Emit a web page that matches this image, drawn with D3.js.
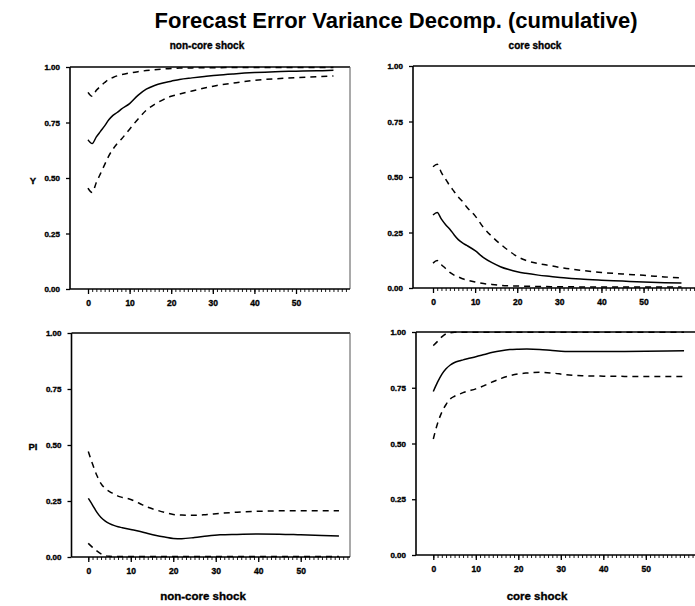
<!DOCTYPE html>
<html>
<head>
<meta charset="utf-8">
<script src="https://cdn.jsdelivr.net/npm/d3@7/dist/d3.min.js"></script>
<style>
  html, body { margin: 0; padding: 0; background: #fff; }
  svg { display: block; }
  text { font-family: "Liberation Sans", Arial, Helvetica, sans-serif; font-weight: bold; fill: #000; }
  .heavy { stroke: #000; stroke-width: 0.35px; }
</style>
</head>
<body>
<svg id="chart" width="695" height="606"></svg>
<script>
// ---------------- data ----------------
const title = "Forecast Error Variance Decomp. (cumulative)";
const shockLabels = ["non-core shock", "core shock"];
const variableLabels = ["Y", "PI"];
const yTickValues = [0, 0.25, 0.5, 0.75, 1];
const xTickValues = [0, 10, 20, 30, 40, 50];

const horizons = [0,1,2,3,4,5,6,7,8,10,12,14,16,18,20,22,25,28,31,35,40,45,50,55,59];

// Y, non-core shock
const yNonCore   = [0.672,0.655,0.685,0.710,0.735,0.762,0.782,0.795,0.810,0.835,0.872,0.900,0.917,0.928,0.936,0.944,0.951,0.957,0.963,0.969,0.975,0.979,0.981,0.983,0.985];
const yNonCoreHi = [0.886,0.868,0.895,0.913,0.930,0.945,0.953,0.960,0.965,0.973,0.979,0.984,0.988,0.991,0.993,0.995,0.996,0.997,0.997,0.998,0.998,0.998,0.998,0.998,0.998];
const yNonCoreLo = [0.454,0.435,0.480,0.520,0.560,0.600,0.630,0.655,0.675,0.720,0.765,0.805,0.832,0.852,0.868,0.878,0.892,0.905,0.917,0.928,0.940,0.947,0.952,0.956,0.960];

// Y, core shock
const yCore   = [0.329,0.340,0.310,0.285,0.265,0.240,0.218,0.203,0.192,0.168,0.137,0.114,0.096,0.083,0.073,0.066,0.058,0.052,0.046,0.040,0.035,0.031,0.027,0.024,0.022];
const yCoreHi = [0.546,0.557,0.520,0.490,0.460,0.435,0.410,0.390,0.365,0.325,0.272,0.232,0.198,0.168,0.142,0.125,0.110,0.100,0.090,0.080,0.070,0.063,0.057,0.050,0.045];
const yCoreLo = [0.112,0.124,0.105,0.088,0.070,0.058,0.050,0.042,0.036,0.027,0.020,0.016,0.012,0.010,0.009,0.008,0.007,0.006,0.006,0.005,0.005,0.004,0.004,0.004,0.004];

// PI, non-core shock
const piNonCore   = [0.262,0.232,0.200,0.176,0.160,0.149,0.141,0.135,0.131,0.123,0.115,0.105,0.096,0.089,0.083,0.082,0.087,0.094,0.099,0.101,0.103,0.102,0.099,0.096,0.094];
const piNonCoreHi = [0.471,0.415,0.365,0.328,0.305,0.292,0.282,0.272,0.266,0.257,0.240,0.222,0.210,0.199,0.190,0.187,0.186,0.190,0.195,0.200,0.204,0.206,0.206,0.206,0.206];
const piNonCoreLo = [0.061,0.043,0.027,0.014,0.006,0.003,0.002,0.002,0.002,0.002,0.002,0.002,0.002,0.002,0.002,0.002,0.002,0.002,0.002,0.002,0.002,0.002,0.002,0.002,0.002];

// PI, core shock
const piCore   = [0.733,0.775,0.810,0.835,0.852,0.863,0.870,0.875,0.880,0.889,0.899,0.909,0.916,0.921,0.923,0.924,0.922,0.917,0.913,0.912,0.912,0.913,0.914,0.915,0.916];
const piCoreHi = [0.939,0.958,0.978,0.992,0.997,0.999,0.999,0.999,0.999,0.999,0.999,0.999,0.999,0.999,0.999,0.999,0.999,0.999,0.999,0.999,0.999,0.999,0.999,0.999,0.999];
const piCoreLo = [0.520,0.590,0.640,0.675,0.700,0.712,0.720,0.728,0.734,0.745,0.760,0.777,0.792,0.804,0.812,0.816,0.819,0.816,0.809,0.804,0.802,0.801,0.801,0.801,0.801];

// ---------------- layout ----------------
const panels = [
  { mid: yNonCore,  hi: yNonCoreHi,  lo: yNonCoreLo,  box: {l: 70,  r: 350, t: 67,  b: 289}, dom: [-4.33, 62.98], rightBorder: true },
  { mid: yCore,     hi: yCoreHi,     lo: yCoreLo,     box: {l: 413, r: 700, t: 66,  b: 288}, dom: [-4.75, 63.4],  rightBorder: false },
  { mid: piNonCore, hi: piNonCoreHi, lo: piNonCoreLo, box: {l: 71.5,r: 350, t: 333, b: 557}, dom: [-3.95, 61.6],  rightBorder: true },
  { mid: piCore,    hi: piCoreHi,    lo: piCoreLo,    box: {l: 416, r: 700, t: 332, b: 555}, dom: [-4.07, 62.75], rightBorder: false }
];

const svg = d3.select("#chart");

svg.append("text")
  .attr("x", 396).attr("y", 28)
  .attr("text-anchor", "middle")
  .style("font-size", "22px")
  .text(title);

// top subtitles
svg.append("text").attr("class", "heavy").attr("x", 207).attr("y", 49).attr("text-anchor", "middle")
  .style("font-size", "10px").text(shockLabels[0]);
svg.append("text").attr("class", "heavy").attr("x", 535).attr("y", 49).attr("text-anchor", "middle")
  .style("font-size", "10px").text(shockLabels[1]);
// bottom labels
svg.append("text").attr("class", "heavy").attr("x", 203).attr("y", 600).attr("text-anchor", "middle")
  .style("font-size", "11.5px").text(shockLabels[0]);
svg.append("text").attr("class", "heavy").attr("x", 537).attr("y", 600).attr("text-anchor", "middle")
  .style("font-size", "11.5px").text(shockLabels[1]);
// row labels
svg.append("text").attr("class", "heavy").attr("x", 33).attr("y", 184).attr("text-anchor", "middle")
  .style("font-size", "9.5px").text(variableLabels[0]);
svg.append("text").attr("class", "heavy").attr("x", 33).attr("y", 450).attr("text-anchor", "middle")
  .style("font-size", "9.5px").text(variableLabels[1]);

panels.forEach(p => {
  const x = d3.scaleLinear().domain(p.dom).range([p.box.l, p.box.r]);
  const y = d3.scaleLinear().domain([0, 1]).range([p.box.b, p.box.t]);
  const g = svg.append("g");

  // frame: top line and optional right line
  g.append("line").attr("x1", p.box.l).attr("x2", p.box.r)
    .attr("y1", y(1)).attr("y2", y(1))
    .attr("stroke", "#000").attr("stroke-width", 1.6);
  if (p.rightBorder) {
    g.append("line").attr("x1", p.box.r).attr("x2", p.box.r)
      .attr("y1", y(1)).attr("y2", y(0))
      .attr("stroke", "#555").attr("stroke-width", 1);
  }

  // minor x ticks
  const minor = d3.range(0, Math.floor(p.dom[1]) + 1);
  const xMinor = d3.axisBottom(x).tickValues(minor).tickSize(3).tickFormat("");
  const gm = g.append("g").attr("transform", `translate(0,${p.box.b})`).call(xMinor);
  gm.select(".domain").remove();
  gm.selectAll(".tick line").attr("stroke", "#000").attr("stroke-width", 0.9);

  // major x axis
  const xAxis = d3.axisBottom(x).tickValues(xTickValues).tickSize(5).tickPadding(6).tickFormat(d3.format("d"));
  const gx = g.append("g").attr("transform", `translate(0,${p.box.b})`).call(xAxis);
  gx.select(".domain").attr("d", `M${p.box.l},0H${p.box.r}`).attr("stroke", "#000").attr("stroke-width", 1.6);
  gx.selectAll(".tick line").attr("stroke", "#000").attr("stroke-width", 1.3);
  gx.selectAll(".tick text").attr("class", "heavy").attr("fill", "#000")
    .style("font-size", "8.5px").style("font-family", "'Liberation Sans', Arial, sans-serif").style("font-weight", "bold");

  // y axis
  const yAxis = d3.axisLeft(y).tickValues(yTickValues).tickSize(4).tickPadding(6).tickFormat(d3.format(".2f"));
  const gy = g.append("g").attr("transform", `translate(${p.box.l},0)`).call(yAxis);
  gy.select(".domain").attr("d", `M0,${p.box.b}V${p.box.t}`).attr("stroke", "#000").attr("stroke-width", 1.6);
  gy.selectAll(".tick line").attr("stroke", "#000").attr("stroke-width", 1.3);
  gy.selectAll(".tick text").attr("class", "heavy").attr("fill", "#000")
    .style("font-size", "8px").style("font-family", "'Liberation Sans', Arial, sans-serif").style("font-weight", "bold");

  const line = d3.line().x((d, i) => x(horizons[i])).y(d => y(d)).curve(d3.curveMonotoneX);

  g.append("path").datum(p.hi).attr("d", line)
    .attr("fill", "none").attr("stroke", "#000").attr("stroke-width", 1.5)
    .attr("stroke-dasharray", "6,5");
  g.append("path").datum(p.lo).attr("d", line)
    .attr("fill", "none").attr("stroke", "#000").attr("stroke-width", 1.5)
    .attr("stroke-dasharray", "6,5");
  g.append("path").datum(p.mid).attr("d", line)
    .attr("fill", "none").attr("stroke", "#000").attr("stroke-width", 1.5);
});
</script>
</body>
</html>
